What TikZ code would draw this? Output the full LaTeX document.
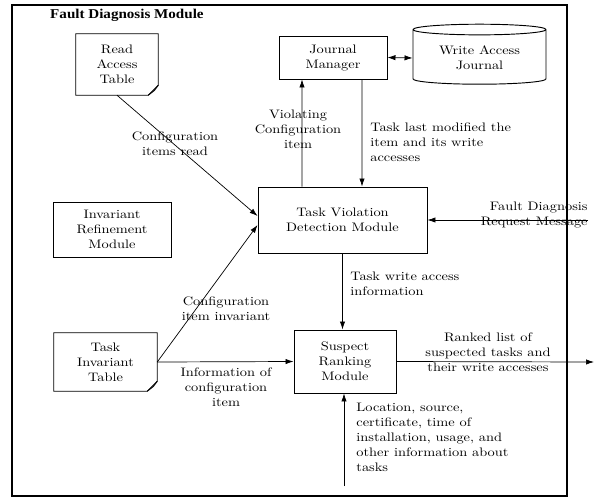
\documentclass[tikz,border=0pt]{standalone}
\usepackage{fontspec}
\setmainfont{lmroman10}[Extension=.otf, UprightFont=*-regular, BoldFont=*-bold, FakeStretch=1.17]
\newfontfamily\titlefont{Liberation Serif}[FakeStretch=1.12]
\usepackage{tikz}
\usetikzlibrary{positioning,shapes.geometric,arrows.meta,calc}

\begin{document}
\begin{tikzpicture}[
    x=0.03cm, y=-0.03cm,
    box/.style={rectangle, draw=black, thick, align=center, font=\fontsize{10.5}{12.8}\selectfont, inner sep=1pt},
    doc/.style={rectangle, draw=none, align=center, font=\fontsize{10.5}{12.8}\selectfont, inner sep=1pt},
    lbl/.style={align=center, font=\fontsize{10.5}{12.8}\selectfont, inner sep=1pt},
    arrow/.style={-{Latex[length=2.4mm,width=1.6mm]}, semithick, draw=black}
]
    \useasboundingbox (0,0) rectangle (594,497);
    % Module frame and title
    \draw[very thick] (12,5) rectangle (567,496);
    \node[anchor=west, inner sep=0pt, font=\titlefont\bfseries\fontsize{11.5}{13}\selectfont] (title) at (50,15) {Fault Diagnosis Module};

    % Tables (document shapes)
    \node[doc, minimum width=2.46cm, minimum height=1.83cm] (read_tab) at (117,64.5) {Read\\Access\\Table};
    \node[doc, minimum width=3.09cm, minimum height=1.74cm] (inv_tab) at (105.5,362) {Task\\Invariant\\Table};
    \foreach \t in {read_tab, inv_tab} {
        \draw[thick] (\t.north west) -- (\t.north east) -- ([yshift=0.3cm]\t.south east)
            -- ([xshift=-0.3cm]\t.south east) -- (\t.south west) -- cycle;
        \draw[thick] ([yshift=0.3cm]\t.south east) -- ([xshift=-0.12cm, yshift=0.14cm]\t.south east)
            -- ([xshift=-0.3cm]\t.south east);
    }

    % Modules
    \node[box, minimum width=3.24cm, minimum height=1.29cm] (journal_mgr) at (333,57.5) {Journal\\Manager};
    \node[cylinder, shape border rotate=90, draw=black, thick, aspect=0.12, minimum width=3.99cm, minimum height=1.8cm,
          align=center, font=\fontsize{10.5}{12.8}\selectfont] (journal) at (479.5,58) {Write Access\\Journal};
    \node[box, minimum width=5.07cm, minimum height=1.98cm] (tvd) at (342.5,220) {Task Violation\\Detection Module};
    \node[box, minimum width=3.54cm, minimum height=1.65cm] (inv_ref) at (112,229.5) {Invariant\\Refinement\\Module};
    \node[box, minimum width=3.06cm, minimum height=1.89cm] (ranking) at (345,361.5) {Suspect\\Ranking\\Module};

    % Outside ends
    \coordinate (fd_req) at (588,220);
    \coordinate (ranked_out) at (594,362);
    \coordinate (task_info) at (344,486);

    % Arrows: journal
    \draw[{Latex[length=2.4mm,width=1.6mm]}-{Latex[length=2.4mm,width=1.6mm]}, semithick] (journal_mgr.east) -- (journal.west);
    \draw[arrow] ([xshift=-1.215cm]tvd.north) -- ([xshift=-0.93cm]journal_mgr.south);
    \draw[arrow] ([xshift=0.87cm]journal_mgr.south) -- ([xshift=0.585cm]tvd.north);

    % Arrows: into detection
    \draw[arrow] (read_tab.south) -- ([yshift=0.12cm]tvd.west);
    \draw[arrow] (inv_tab.east) -- ([yshift=-0.15cm]tvd.west);
    \draw[arrow] (fd_req) -- (tvd.east);

    % Arrows: ranking
    \draw[arrow] (inv_tab.east) -- (ranking.west);
    \draw[arrow] (tvd.south) -- (tvd.south |- ranking.north);
    \draw[arrow] (task_info) -- (task_info |- ranking.south);
    \draw[arrow] (ranking.east) -- (ranked_out);

    % Labels
    \node[lbl] (l_read) at (175,144) {Configuration\\items read};
    \node[lbl] (l_viol) at (298,129) {Violating\\Configuration\\item};
    \node[lbl, anchor=west, align=left] (l_last) at (369,142) {Task last modified the\\item and its write\\accesses};
    \node[lbl, anchor=east, align=right] (l_fdr) at (589,215) {Fault Diagnosis\\Request Message};
    \node[lbl] (l_inv) at (226,309) {Configuration\\item invariant};
    \node[lbl] (l_info) at (226,387) {Information of\\configuration\\item};
    \node[lbl, anchor=west, align=left] (l_write) at (349,284) {Task write access\\information};
    \node[lbl] (l_ranked) at (488,352) {Ranked list of\\suspected tasks and\\their write accesses};
    \node[lbl, anchor=west, align=left] (l_task) at (355,437) {Location, source,\\certificate, time of\\installation, usage, and\\other information about\\tasks};
\end{tikzpicture}
\end{document}
